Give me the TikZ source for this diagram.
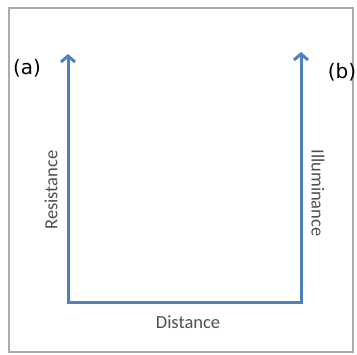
\documentclass[tikz,border=0pt]{standalone}
\usepackage{fontspec}
\setmainfont{DejaVu Sans}
\newfontfamily\axisfont{Carlito}
\usepackage{tikz}
\usetikzlibrary{arrows.meta}
\usepackage{xcolor}

\definecolor{axisblue}{HTML}{4F81BD}
\definecolor{framegrey}{HTML}{A5AEB8}
\definecolor{labelgrey}{HTML}{505050}

\begin{document}
\begin{tikzpicture}[x=1pt,y=-1pt,
		axis/.style={line width=3pt, color=axisblue, line join=miter},
		axislabel/.style={font=\axisfont\fontsize{18.5}{20}\selectfont, text=labelgrey, inner sep=0pt},
		partlabel/.style={font=\fontsize{20}{22}\selectfont, inner sep=0pt}]
		% Page size and the grey frame
		\useasboundingbox (0,0) rectangle (357,355);
		\draw[framegrey, line width=1.3pt] (9,8) rectangle (353,352);
		
		% Corner points of the axes
		\coordinate (ltop) at (68,54);
		\coordinate (lbot) at (68,303);
		\coordinate (rbot) at (301,303);
		\coordinate (rtop) at (301,52);
		
		% The U shaped axes with arrow heads at both ends
		\draw[axis, {Straight Barb[length=6pt,width=14pt]}-{Straight Barb[length=6pt,width=14pt]}] (ltop) -- (lbot) -- (rbot) -- (rtop);
		
		% Axis labels
		\node[axislabel, rotate=90] (res) at (51,190) {Resistance};
		\node[axislabel, rotate=-90] (ill) at (318,193) {Illuminance};
		\node[axislabel] (dist) at (188,322) {Distance};
		
		% Part labels
		\node[partlabel] (pa) at (27,68) {(a)};
		\node[partlabel] (pb) at (342,72) {(b)};
\end{tikzpicture}
\end{document}
